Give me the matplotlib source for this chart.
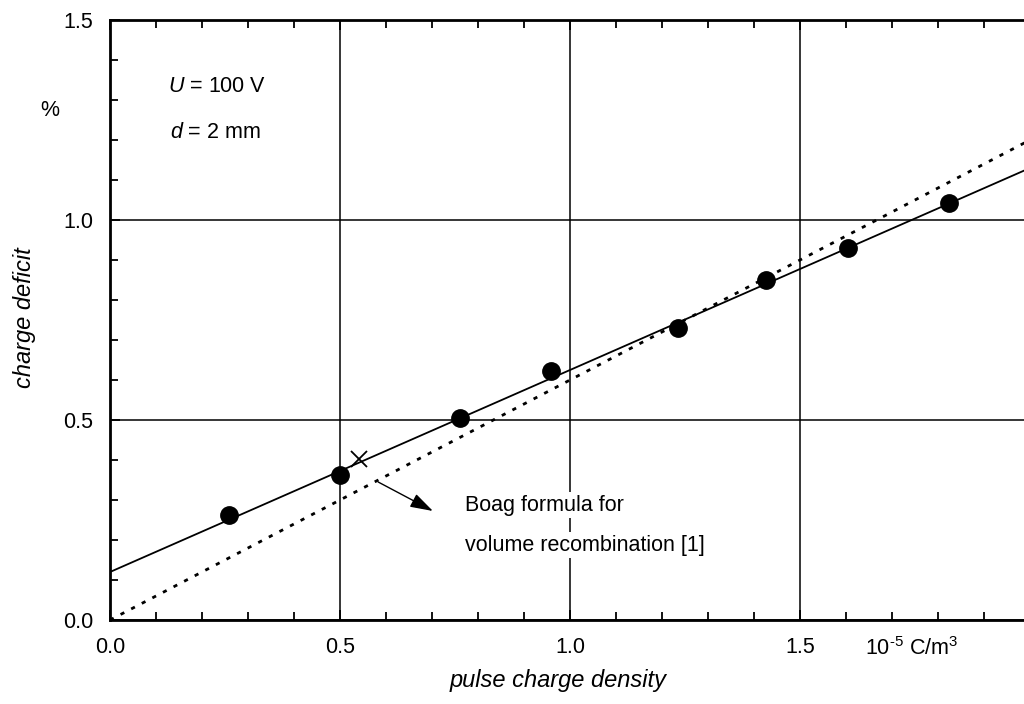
import matplotlib
matplotlib.use("Agg")
import matplotlib.pyplot as plt
from matplotlib.ticker import MultipleLocator

plt.rcParams['font.family'] = ['Liberation Sans', 'DejaVu Sans']
plt.rcParams['mathtext.fontset'] = 'custom'
plt.rcParams['mathtext.rm'] = 'Liberation Sans'
plt.rcParams['mathtext.it'] = 'Liberation Sans:italic'

# measured charge deficit vs pulse charge density
density = [0.259, 0.500, 0.761, 0.959, 1.235, 1.426, 1.604, 1.824]
deficit = [0.262, 0.362, 0.505, 0.622, 0.730, 0.850, 0.930, 1.042]

# linear fit through the measurements
fit_x = [0.0, 2.0]
fit_y = [0.12, 1.13]

# Boag formula (volume recombination)
boag_x = [0.0, 2.0]
boag_y = [0.0, 1.20]

# single point marked with a cross
cross_x = [0.541]
cross_y = [0.402]

FS = 15.5

fig = plt.figure(figsize=(10.24, 7.04), dpi=100)
W, H = 1024, 704
ax = fig.add_axes([110 / W, 1 - 620 / H, 920 / W, 600 / H])

ax.plot(fit_x, fit_y, color='black', lw=1.3, zorder=3)
ax.plot(boag_x, boag_y, color='black', lw=2.0, linestyle=(0, (1.5, 2.8)), zorder=3)
ax.plot(density, deficit, 'o', color='black', markersize=12.5, zorder=4)
ax.plot(cross_x, cross_y, 'x', color='black', markersize=11, mew=1.3, zorder=4)

ax.set_xlim(0, 2.0)
ax.set_ylim(0, 1.5)
ax.xaxis.set_minor_locator(MultipleLocator(0.1))
ax.yaxis.set_minor_locator(MultipleLocator(0.1))
ax.set_xticks([0.0, 0.5, 1.0, 1.5])
ax.set_xticklabels(['0.0', '0.5', '1.0', '1.5'])
ax.set_yticks([0.0, 0.5, 1.0, 1.5])
ax.set_yticklabels(['0.0', '0.5', '1.0', '1.5'])
ax.tick_params(which='both', direction='in', top=True, right=False,
               labelsize=FS, width=1.3, color='black')
ax.tick_params(which='major', length=7, pad=12)
ax.tick_params(which='minor', length=6)
ax.grid(True, which='major', color='black', lw=1.1)
ax.set_axisbelow(True)
for side in ['left', 'bottom', 'top']:
    ax.spines[side].set_linewidth(2.0)
ax.spines['right'].set_visible(False)

ax.text(0.126, 1.3325, '$U$ = 100 V', fontsize=FS, va='center', ha='left')
ax.text(0.131, 1.2175, '$d$ = 2 mm', fontsize=FS, va='center', ha='left')

ax.text(0.772, 0.2875, 'Boag formula for', fontsize=FS, va='center', ha='left',
        bbox=dict(facecolor='white', edgecolor='none', pad=1.5), zorder=5)
ax.text(0.772, 0.1875, 'volume recombination [1]', fontsize=FS, va='center', ha='left',
        bbox=dict(facecolor='white', edgecolor='none', pad=1.5), zorder=5)
ax.annotate('', xy=(0.702, 0.2725), xytext=(0.583, 0.345),
            arrowprops=dict(arrowstyle='-|>,head_length=0.7,head_width=0.22',
                            color='black', lw=1.0, mutation_scale=20,
                            shrinkA=0, shrinkB=0), zorder=5)

fig.text(865 / W, 1 - 655 / H, r'10$^{\text{-5}}$ C/m$^{3}$', fontsize=FS,
         va='baseline', ha='left')
fig.text(50 / W, 1 - 110 / H, '%', fontsize=FS, va='center', ha='center')
fig.text(558 / W, 1 - 680 / H, 'pulse charge density', fontsize=17, style='italic',
         va='center', ha='center')
fig.text(25 / W, 1 - 318 / H, 'charge deficit', fontsize=17, style='italic',
         va='center', ha='center', rotation=90)

fig.savefig('out.png', dpi=100)
